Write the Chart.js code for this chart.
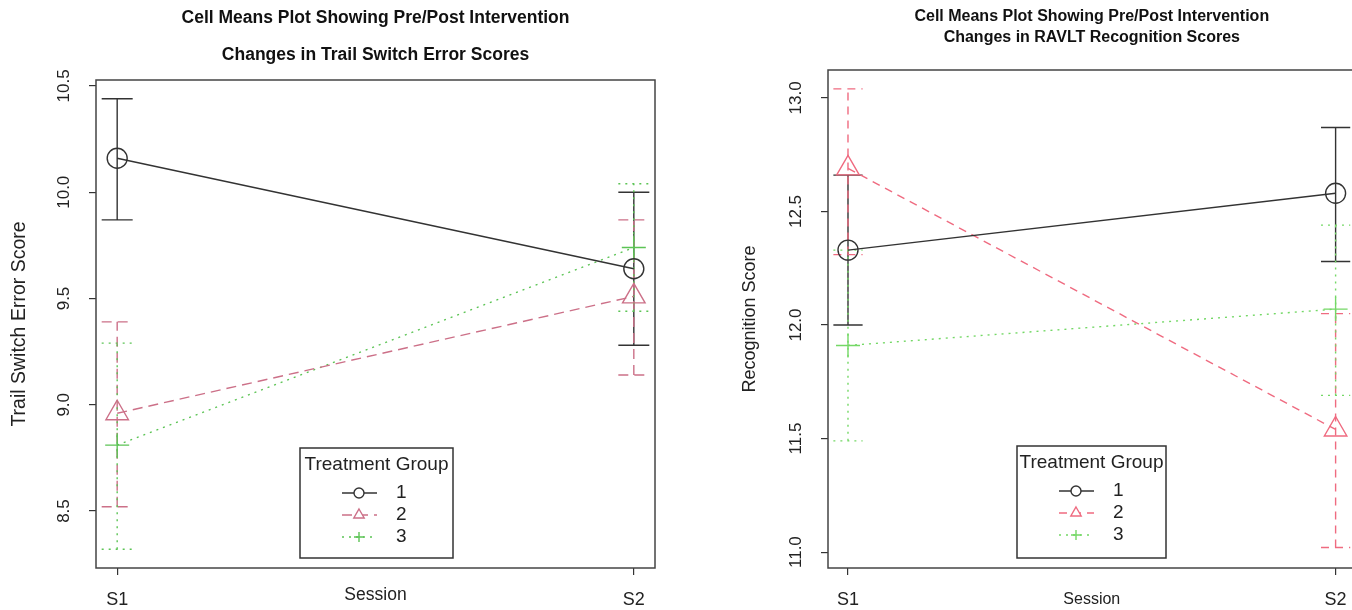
<!DOCTYPE html>
<html>
<head>
<meta charset="utf-8">
<title>Cell Means Plots</title>
<script src="https://cdn.jsdelivr.net/npm/chart.js@4.4.1/dist/chart.umd.min.js"></script>
<style>
  html, body { margin: 0; padding: 0; background: #fff; overflow: hidden; }
  canvas { position: absolute; top: 0; }
  #trailChart { left: 0; }
  #recogChart { left: 676px; }
</style>
</head>
<body>
<canvas id="trailChart" width="676" height="610"></canvas>
<canvas id="recogChart" width="694" height="610"></canvas>
<script>
const sessions = ["S1", "S2"];
const groupNames = ["1", "2", "3"];

// trail switch error scores (left plot): mean and error bar ends per session
const trailMean1 = [10.16, 9.64];
const trailLow1 = [9.87, 9.28];
const trailHigh1 = [10.44, 10.0];
const trailMean2 = [8.96, 9.51];
const trailLow2 = [8.52, 9.14];
const trailHigh2 = [9.39, 9.87];
const trailMean3 = [8.81, 9.74];
const trailLow3 = [8.32, 9.44];
const trailHigh3 = [9.29, 10.04];
const trailTicks = [8.5, 9.0, 9.5, 10.0, 10.5];

// RAVLT recognition scores (right plot)
const recogMean1 = [12.33, 12.58];
const recogLow1 = [12.0, 12.28];
const recogHigh1 = [12.66, 12.87];
const recogMean2 = [12.69, 11.54];
const recogLow2 = [12.31, 11.02];
const recogHigh2 = [13.04, 12.05];
const recogMean3 = [11.91, 12.07];
const recogLow3 = [11.49, 11.69];
const recogHigh3 = [12.33, 12.44];
const recogTicks = [11.0, 11.5, 12.0, 12.5, 13.0];

Chart.defaults.font.family = "'Liberation Sans', Arial, sans-serif";
Chart.defaults.color = "#222";

// error bars with caps, drawn with each dataset's own line style
const errorBars = {
  id: "errorBars",
  beforeDatasetsDraw(chart, args, opts) {
    const { ctx, scales: { x, y } } = chart;
    chart.data.datasets.forEach((ds) => {
      ctx.save();
      ctx.strokeStyle = ds.borderColor;
      ctx.lineWidth = ds.borderWidth;
      ctx.setLineDash(ds.borderDash || []);
      ds.low.forEach((lo, i) => {
        const px = x.getPixelForValue(i + 1);
        const l = x.getPixelForValue(i + 1 - opts.cap);
        const r = x.getPixelForValue(i + 1 + opts.cap);
        const pLo = y.getPixelForValue(lo);
        const pHi = y.getPixelForValue(ds.high[i]);
        ctx.beginPath();
        ctx.moveTo(px, pLo);
        ctx.lineTo(px, pHi);
        ctx.moveTo(l, pLo);
        ctx.lineTo(r, pLo);
        ctx.moveTo(l, pHi);
        ctx.lineTo(r, pHi);
        ctx.stroke();
      });
      ctx.restore();
    });
  },
};

// R style box round the plot region
const plotBox = {
  id: "plotBox",
  afterDraw(chart) {
    const { ctx, chartArea: a } = chart;
    ctx.save();
    ctx.strokeStyle = "#444";
    ctx.lineWidth = 1.5;
    ctx.strokeRect(a.left, a.top, a.right - a.left, a.bottom - a.top);
    ctx.restore();
  },
};

// legend box with a title, line + marker samples
const boxLegend = {
  id: "boxLegend",
  afterDraw(chart, args, opts) {
    const { ctx } = chart;
    const { x, y, w, h } = opts;
    ctx.save();
    ctx.fillStyle = "#fff";
    ctx.fillRect(x, y, w, h);
    ctx.strokeStyle = "#333";
    ctx.lineWidth = 1.5;
    ctx.strokeRect(x, y, w, h);
    ctx.fillStyle = "#222";
    ctx.font = "19px 'Liberation Sans', Arial, sans-serif";
    ctx.textAlign = "center";
    ctx.textBaseline = "middle";
    ctx.fillText(opts.title, x + w / 2, y + 17);
    chart.data.datasets.forEach((ds, i) => {
      const ry = y + 45 + i * 22;
      ctx.strokeStyle = ds.borderColor;
      ctx.lineWidth = ds.borderWidth;
      ctx.setLineDash(ds.borderDash || []);
      ctx.beginPath();
      ctx.moveTo(x + 42, ry);
      ctx.lineTo(x + 77, ry);
      ctx.stroke();
      ctx.setLineDash([]);
      ctx.fillStyle = "#fff";
      Chart.helpers.drawPoint(ctx, { pointStyle: ds.pointStyle, radius: ds.pointStyle === "triangle" ? 6 : 5, borderWidth: ds.borderWidth, rotation: 0 }, x + 59, ry);
      ctx.fillStyle = "#222";
      ctx.textAlign = "left";
      ctx.fillText(ds.label, x + 96, ry);
    });
    ctx.restore();
  },
};

function groupSet(label, means, low, high, color, dash, style, radius) {
  return {
    label: label,
    data: means.map((v, i) => ({ x: i + 1, y: v })),
    low: low,
    high: high,
    borderColor: color,
    borderWidth: 1.4,
    borderDash: dash,
    backgroundColor: "rgba(0,0,0,0)",
    pointStyle: style,
    pointRadius: radius,
    pointHoverRadius: radius,
    pointBorderWidth: 1.4,
    tension: 0,
  };
}

function cellMeansChart(id, s) {
  return new Chart(document.getElementById(id), {
    type: "line",
    data: { datasets: s.datasets },
    plugins: [errorBars, plotBox, boxLegend],
    options: {
      responsive: false,
      animation: false,
      layout: { padding: { right: s.padRight, top: 0, bottom: 0, left: 0 } },
      plugins: {
        legend: { display: false },
        tooltip: { enabled: false },
        title: {
          display: true,
          fullSize: false,
          text: s.title,
          color: "#111",
          font: { size: s.titleSize, weight: "bold", lineHeight: s.titleLine },
          padding: s.titlePad,
        },
        errorBars: { cap: 0.03 },
        boxLegend: Object.assign({ title: "Treatment Group" }, s.legend),
      },
      scales: {
        x: {
          type: "linear",
          min: 0.959,
          max: 2.041,
          afterBuildTicks: (scale) => {
            scale.ticks = sessions.map((name, i) => ({ value: i + 1 }));
          },
          afterFit: (scale) => {
            scale.height = 42;
          },
          grid: { drawOnChartArea: false, drawTicks: true, tickLength: 7, color: "#333", lineWidth: 1.2 },
          border: { display: false },
          ticks: {
            autoSkip: false,
            minRotation: 0,
            maxRotation: 0,
            padding: 14,
            font: { size: 18 },
            callback: (v) => sessions[v - 1],
          },
          title: { display: true, text: "Session", font: { size: s.xTitleSize }, padding: { top: 0, bottom: s.xTitlePad } },
        },
        y: {
          min: s.yMin,
          max: s.yMax,
          afterBuildTicks: (scale) => {
            scale.ticks = s.yTicks.map((v) => ({ value: v }));
          },
          afterFit: (scale) => {
            scale.width = s.yWidth;
          },
          grid: { drawOnChartArea: false, drawTicks: true, tickLength: 7, color: "#333", lineWidth: 1.2 },
          border: { display: false },
          ticks: {
            minRotation: 90,
            maxRotation: 90,
            crossAlign: "center",
            padding: s.yTickPad,
            font: { size: 17 },
            callback: (v) => v.toFixed(1),
          },
          title: { display: true, text: s.yTitle, font: { size: s.yTitleSize }, padding: { top: s.yTitlePad, bottom: 0 } },
        },
      },
    },
  });
}

cellMeansChart("trailChart", {
  title: ["Cell Means Plot Showing Pre/Post Intervention", "Changes in Trail Switch Error Scores"],
  titleSize: 17.5,
  titleLine: "37px",
  titlePad: { top: 0, bottom: 6 },
  padRight: 21,
  yMin: 8.232,
  yMax: 10.528,
  yTicks: trailTicks,
  yWidth: 96,
  yTickPad: 8,
  yTitle: "Trail Switch Error Score",
  yTitleSize: 19.5,
  yTitlePad: 8,
  xTitleSize: 17.5,
  xTitlePad: 4,
  legend: { x: 300, y: 448, w: 153, h: 110 },
  datasets: [
    groupSet(groupNames[0], trailMean1, trailLow1, trailHigh1, "#333333", [], "circle", 10),
    groupSet(groupNames[1], trailMean2, trailLow2, trailHigh2, "#cc7088", [10, 6], "triangle", 13),
    groupSet(groupNames[2], trailMean3, trailLow3, trailHigh3, "#5cc455", [2, 5], "cross", 12),
  ],
});

cellMeansChart("recogChart", {
  title: ["Cell Means Plot Showing Pre/Post Intervention", "Changes in RAVLT Recognition Scores"],
  titleSize: 16,
  titleLine: "21px",
  titlePad: { top: 6, bottom: 22 },
  padRight: 14,
  yMin: 10.93,
  yMax: 13.123,
  yTicks: recogTicks,
  yWidth: 152,
  yTickPad: 8,
  yTitle: "Recognition Score",
  yTitleSize: 18,
  yTitlePad: 63,
  xTitleSize: 16,
  xTitlePad: 1,
  legend: { x: 341, y: 446, w: 149, h: 112 },
  datasets: [
    groupSet(groupNames[0], recogMean1, recogLow1, recogHigh1, "#333333", [], "circle", 10),
    groupSet(groupNames[1], recogMean2, recogLow2, recogHigh2, "#ef6b80", [8, 6], "triangle", 13),
    groupSet(groupNames[2], recogMean3, recogLow3, recogHigh3, "#74d866", [2, 5], "cross", 12),
  ],
});
</script>
</body>
</html>
